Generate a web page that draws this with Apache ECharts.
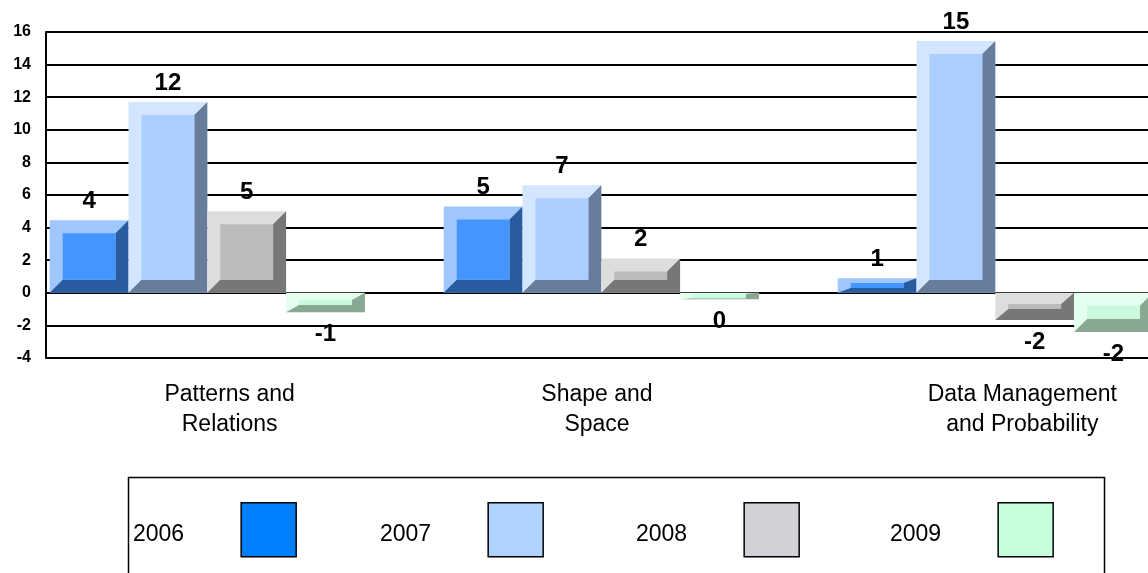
<!DOCTYPE html>
<html>
<head>
<meta charset="utf-8">
<script src="https://cdn.jsdelivr.net/npm/echarts@6/dist/echarts.min.js"></script>
<style>
html,body{margin:0;padding:0;background:#fff;}
#chart{width:1148px;height:573px;}
</style>
</head>
<body>
<div id="chart"></div>
<script>
// ---- data ----
const categories = ['Patterns and\nRelations', 'Shape and\nSpace', 'Data Management\nand Probability'];
const seriesNames = ['2006', '2007', '2008', '2009'];
const values2006 = [4.45, 5.3, 0.9];
const values2007 = [11.7, 6.6, 15.45];
const values2008 = [5.0, 2.1, -1.67];
const values2009 = [-1.2, -0.4, -2.4];
const yTicks = { min: -4, max: 16, interval: 2 };

// ---- styles ----
const legendColors = ['#0080ff', '#b0d4ff', '#d4d0d8', '#c6ffda'];
const bevelColors = [
  { light: '#9fc7fd', face: '#4595ff', dark: '#2a5b9e' },
  { light: '#d4e6ff', face: '#aacfff', dark: '#677d9b' },
  { light: '#dddddd', face: '#bbbbbb', dark: '#777777' },
  { light: '#e2fff0', face: '#cbf9dd', dark: '#88a892' }
];
const FONT = '"Liberation Sans", Arial, sans-serif';

const chart = echarts.init(document.getElementById('chart'), null, { renderer: 'canvas' });

function labelText(v) {
  const r = Math.round(v);
  return r === 0 ? '0' : String(r);
}

function makeRender(si) {
  const c = bevelColors[si];
  return function (params, api) {
    const ci = api.value(0), v = api.value(1);
    const zero = api.coord([ci, 0]);
    const end = api.coord([ci, v]);
    const band = api.size([1, 0])[0];
    const bw = band * 0.2;
    const x0 = zero[0] - band * 0.4 + si * bw;
    const x1 = x0 + bw;
    const y0 = Math.min(zero[1], end[1]);
    const y1 = Math.max(zero[1], end[1]);
    const h = y1 - y0;
    const bx = 13;
    const by = Math.max(1, Math.min(13, (h - 5) / 2));
    const cx = (x0 + x1) / 2;
    const children = [
      { type: 'rect', shape: { x: x0, y: y0, width: bw, height: h }, style: { fill: c.light } },
      { type: 'polygon', shape: { points: [[x1, y0], [x1, y1], [x0, y1], [x0 + bx, y1 - by], [x1 - bx, y1 - by], [x1 - bx, y0 + by]] }, style: { fill: c.dark } },
      { type: 'rect', shape: { x: x0 + bx, y: y0 + by, width: bw - 2 * bx, height: Math.max(0, h - 2 * by) }, style: { fill: c.face } },
      { type: 'text', z2: 10, style: {
          text: labelText(v),
          x: cx, y: v >= 0 ? y0 - 19 : y1 + 22,
          align: 'center', verticalAlign: 'middle',
          fontSize: 24, fontWeight: 'bold', fontFamily: FONT, fill: '#000' } }
    ];
    return { type: 'group', children: children };
  };
}

const allValues = [values2006, values2007, values2008, values2009];
const series = seriesNames.map((name, si) => ({
  type: 'custom',
  name: name,
  xAxisIndex: 1,
  yAxisIndex: 1,
  clip: false,
  itemStyle: { color: legendColors[si] },
  renderItem: makeRender(si),
  data: allValues[si].map((v, i) => [i, v]),
  z: 5
}));

const legendLeft = [133, 380, 636, 890];
const legends = seriesNames.map((name, i) => ({
  data: [name],
  left: legendLeft[i],
  top: 502,
  padding: 0,
  align: 'right',
  icon: 'rect',
  itemWidth: 55,
  itemHeight: 54,
  selectedMode: false,
  itemStyle: { borderColor: '#000', borderWidth: 1.5 },
  formatter: '{t|{name}}',
  textStyle: { fontSize: 23, fontFamily: FONT, color: '#000',
    rich: { t: { fontSize: 23, fontFamily: FONT, color: '#000', padding: [10, 52, 0, 0] } } }
}));

const catData = categories.map((c, i) => i === 2 ? { value: c, textStyle: { padding: [0, 0, 0, 116] } } : c);

const option = {
  animation: false,
  backgroundColor: '#fff',
  grid: [
    { left: 46, right: 0, top: 32, bottom: 215, containLabel: false, outerBoundsMode: 'none' },
    { left: 10.3, width: 1182, top: 32, bottom: 215, containLabel: false, outerBoundsMode: 'none' }
  ],
  xAxis: [
    { type: 'category', gridIndex: 0, data: catData,
      axisLine: { show: false }, axisTick: { show: false },
      axisLabel: { interval: 0, margin: 22, fontSize: 23, lineHeight: 30, fontFamily: FONT, color: '#000' } },
    { type: 'category', gridIndex: 1, data: categories, show: false }
  ],
  yAxis: [
    { type: 'value', gridIndex: 0, min: yTicks.min, max: yTicks.max, interval: yTicks.interval,
      axisLine: { show: true, lineStyle: { color: '#000', width: 2 } },
      axisTick: { show: false },
      splitLine: { show: true, lineStyle: { color: '#000', width: 2 } },
      axisLabel: { margin: 15, fontSize: 16, fontWeight: 'bold', fontFamily: FONT, color: '#000' } },
    { type: 'value', gridIndex: 1, min: yTicks.min, max: yTicks.max, interval: yTicks.interval, show: false, splitLine: { show: false } }
  ],
  legend: legends,
  graphic: [
    { type: 'rect', z: -1, shape: { x: 128.5, y: 477.5, width: 976, height: 200 }, style: { fill: 'none', stroke: '#000', lineWidth: 1.5 } }
  ],
  series: series
};
chart.setOption(option);
</script>
</body>
</html>
